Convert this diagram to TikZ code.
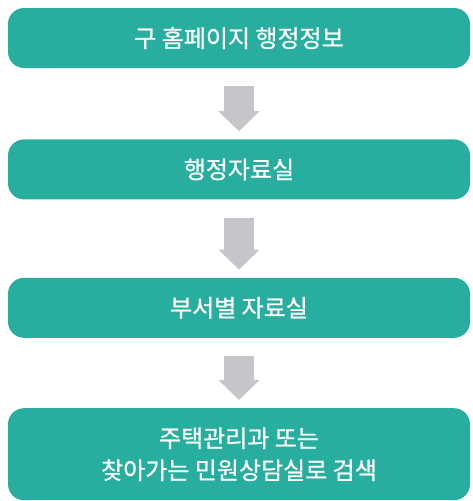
\documentclass[tikz,border=0pt]{standalone}
\usepackage{fontspec}
\setmainfont{Noto Sans CJK KR}
\newfontfamily\stepfont{Noto Sans CJK KR}[FakeBold=0.8]
\usetikzlibrary{arrows.meta,positioning}
\definecolor{stepteal}{RGB}{40,174,158}
\definecolor{stepgray}{RGB}{196,198,202}
\tikzstyle{stepbox}=[
	rectangle,
	rounded corners=16pt,
	fill=stepteal,
	text=white,
	font=\stepfont\fontsize{24pt}{32pt}\selectfont,
	minimum width=462pt,
	minimum height=60pt,
	align=center
]
\tikzstyle{flow}=[
	-{Triangle[length=20pt,width=40pt]},
	line width=30pt,
	draw=stepgray,
	shorten <=18pt,
	shorten >=8pt
]

\begin{document}
\begin{tikzpicture}
\useasboundingbox (0,0) rectangle (473pt,-501pt);
\node [stepbox] (Homepage) at (239pt,-38pt) {구 홈페이지 행정정보};
\node [stepbox] (AdminData)[below=71pt of Homepage] {행정자료실};
\node [stepbox] (DeptData)[below=78pt of AdminData] {부서별 자료실};
\node [stepbox, minimum height=92pt] (Search)[below=70pt of DeptData] {주택관리과 또는\\찾아가는 민원상담실로 검색};
\draw [flow] (Homepage) -- (AdminData);
\draw [flow] (AdminData) -- (DeptData);
\draw [flow] (DeptData) -- (Search);
\end{tikzpicture}
\end{document}
